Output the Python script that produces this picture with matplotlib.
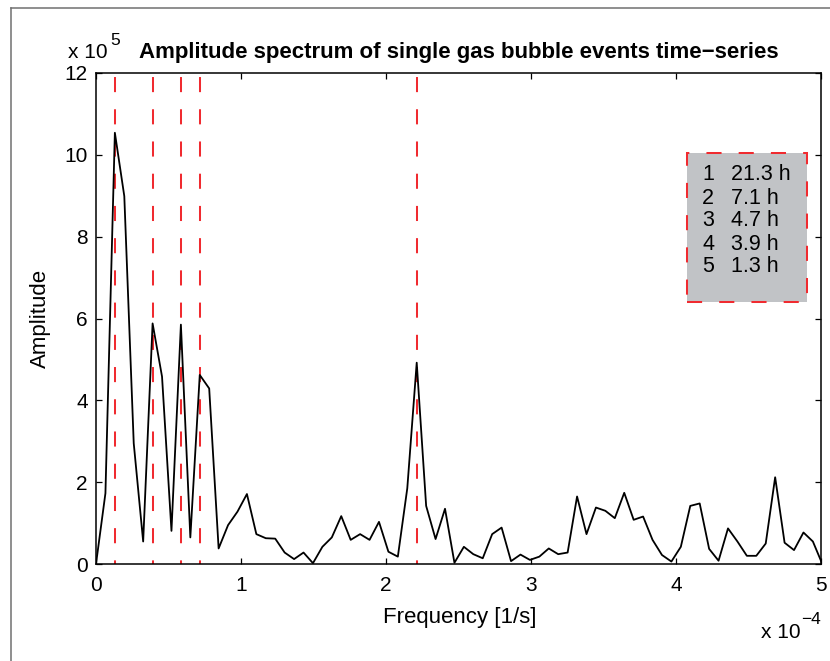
import numpy as np
import matplotlib
matplotlib.use("Agg")
import matplotlib.pyplot as plt
from matplotlib.patches import Rectangle
from matplotlib.lines import Line2D

plt.rcParams['font.family'] = ['Liberation Sans', 'DejaVu Sans']

# amplitude spectrum (units of 1e5), one value per frequency bin
amp = [0.0, 1.73, 10.54, 8.99, 2.95, 0.55, 5.88, 4.58, 0.81, 5.85,
       0.65, 4.62, 4.29, 0.38, 0.95, 1.28, 1.71, 0.73, 0.63, 0.62,
       0.28, 0.12, 0.28, 0.02, 0.42, 0.65, 1.17, 0.59, 0.73, 0.59,
       1.03, 0.30, 0.18, 1.85, 4.92, 1.42, 0.61, 1.35, 0.03, 0.42,
       0.24, 0.14, 0.73, 0.89, 0.07, 0.23, 0.10, 0.18, 0.38, 0.24,
       0.28, 1.65, 0.73, 1.38, 1.30, 1.12, 1.74, 1.08, 1.16, 0.59,
       0.22, 0.06, 0.42, 1.42, 1.48, 0.37, 0.08, 0.87, 0.55, 0.20,
       0.20, 0.50, 2.12, 0.52, 0.34, 0.77, 0.55, 0.0]
record_hours = 42.7          # length of time-series -> bin spacing
peak_bins = [2, 6, 9, 11, 34]
peak_labels = ['1', '2', '3', '4', '5']
peak_periods = ['21.3 h', '7.1 h', '4.7 h', '3.9 h', '1.3 h']

amp = np.array(amp)
freq = np.arange(len(amp)) / (record_hours * 3600) * 1e4   # units of 1e-4 Hz

W, H = 830, 661
fig = plt.figure(figsize=(W / 100, H / 100), dpi=100)
ax = fig.add_axes([96 / W, 1 - 564 / H, 725 / W, 491 / H])

def fx(x):
    return x / W

def fy(y):
    return 1 - y / H

red = '#f02b30'
for b in peak_bins:
    ax.plot([freq[b], freq[b]], [12, 0], color=red, lw=1.45,
            linestyle=(14, (7.5, 8.5)), zorder=1)

ax.plot(freq, amp, color='black', lw=1.3, zorder=2)

ax.set_xlim(0, 5)
ax.set_ylim(0, 12)
ax.set_xticks(range(0, 6))
ax.set_yticks(range(0, 13, 2))
ax.tick_params(direction='in', length=4.5, width=0.9, top=True, right=True,
               labelsize=15)
ax.tick_params(axis='x', pad=8.5)
ax.tick_params(axis='y', pad=6)
for s in ax.spines.values():
    s.set_linewidth(1.1)

ax.set_title('Amplitude spectrum of single gas bubble events time\u2212series',
             fontsize=16, fontweight='bold', pad=11)
fig.text(fx(460), fy(623), 'Frequency [1/s]', fontsize=16, ha='center', va='baseline')
fig.text(fx(51), fy(318), 'Amplitude', fontsize=16, rotation=90,
         ha='right', va='center')

# exponent labels
fig.text(fx(68), fy(58), 'x 10', fontsize=15, va='baseline')
fig.text(fx(110), fy(45), '5', fontsize=12.5, va='baseline')
fig.text(fx(761), fy(638), 'x 10', fontsize=15, va='baseline')
fig.text(fx(801), fy(624), '\u22124', fontsize=12.5, va='baseline')

# period box
ax.add_patch(Rectangle((0.8152, 0.5336), 0.1655, 0.3035, transform=ax.transAxes,
                       facecolor='#c1c3c6', edgecolor=red, lw=1.45,
                       linestyle=(0, (7.5, 8.5)), zorder=3))
row_y = [175, 198, 221, 244, 267]
for yy, lab, per in zip(row_y, peak_labels, peak_periods):
    fig.text(fx(702), fy(yy), lab, fontsize=15.5, va='center', zorder=4)
    fig.text(fx(731), fy(yy), per, fontsize=15.5, va='center', zorder=4)

# outer frame lines
fig.add_artist(Line2D([fx(11), fx(W)], [fy(8), fy(8)], color='#707070', lw=1.1))
fig.add_artist(Line2D([fx(11), fx(11)], [fy(8), fy(H)], color='#707070', lw=1.1))

fig.savefig('out.png', dpi=100)
